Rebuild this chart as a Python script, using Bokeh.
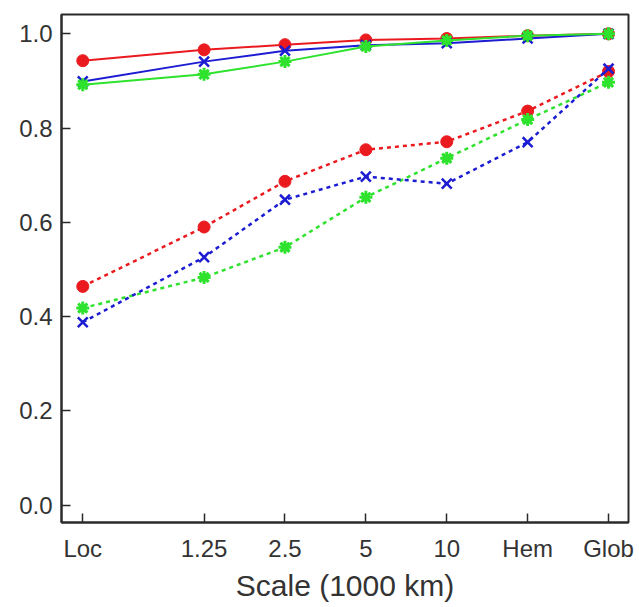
from bokeh.plotting import figure
from bokeh.models import FixedTicker, Range1d
from bokeh.embed import file_html
from bokeh.resources import INLINE

# ---- data ----
categories = ["Loc", "1.25", "2.5", "5", "10", "Hem", "Glob"]
cat_pos = [0, 1.5, 2.5, 3.5, 4.5, 5.5, 6.5]

red_solid = [0.943, 0.966, 0.977, 0.987, 0.990, 0.996, 1.000]
blue_solid = [0.899, 0.941, 0.964, 0.976, 0.980, 0.990, 1.000]
green_solid = [0.892, 0.914, 0.941, 0.973, 0.986, 0.996, 1.000]

red_dash = [0.464, 0.590, 0.687, 0.754, 0.771, 0.836, 0.920]
blue_dash = [0.388, 0.526, 0.648, 0.697, 0.682, 0.770, 0.926]
green_dash = [0.418, 0.483, 0.547, 0.653, 0.736, 0.818, 0.897]

y_ticks = [0.0, 0.2, 0.4, 0.6, 0.8, 1.0]

RED = "#ea1a1f"
BLUE = "#1c1cd2"
GREEN = "#2ee22e"
FONT = "Liberation Sans"
DARK = "#2a2a2a"
TXT = "#333333"

p = figure(width=639, height=607, output_backend="svg", toolbar_location=None,
           x_range=Range1d(-0.263, 6.747), y_range=Range1d(-0.037, 1.041),
           min_border_left=61, min_border_right=11, min_border_top=14, min_border_bottom=85)

p.xgrid.visible = False
p.ygrid.visible = False
p.background_fill_color = "white"
p.border_fill_color = "white"
p.outline_line_color = DARK
p.outline_line_width = 2

# dashed series
dash = "4 4"
p.line(cat_pos, red_dash, color=RED, line_width=2.5, line_dash=dash)
p.scatter(cat_pos, red_dash, marker="circle", size=12, color=RED)
p.line(cat_pos, green_dash, color=GREEN, line_width=2.5, line_dash=dash)
p.scatter(cat_pos, green_dash, marker="asterisk", size=13, line_color=GREEN, line_width=3)
p.scatter(cat_pos, green_dash, marker="x", size=11, line_color=GREEN, line_width=3)
p.line(cat_pos, blue_dash, color=BLUE, line_width=2.5, line_dash=dash)
p.scatter(cat_pos, blue_dash, marker="x", size=14, line_color=BLUE, line_width=2.5)

# solid series
p.line(cat_pos, red_solid, color=RED, line_width=2)
p.scatter(cat_pos, red_solid, marker="circle", size=12, color=RED)
p.line(cat_pos, blue_solid, color=BLUE, line_width=2)
p.scatter(cat_pos, blue_solid, marker="x", size=14, line_color=BLUE, line_width=2.5)
p.line(cat_pos, green_solid, color=GREEN, line_width=2)
p.scatter(cat_pos, green_solid, marker="asterisk", size=13, line_color=GREEN, line_width=3)
p.scatter(cat_pos, green_solid, marker="x", size=11, line_color=GREEN, line_width=3)

# axes
xa = p.xaxis[0]
xa.ticker = FixedTicker(ticks=cat_pos)
xa.major_label_overrides = {pos: lab for pos, lab in zip(cat_pos, categories)}
xa.axis_label = "Scale (1000 km)"

ya = p.yaxis[0]
ya.ticker = FixedTicker(ticks=y_ticks)
ya.major_label_overrides = {t: f"{t:.1f}" for t in y_ticks}

for ax in (xa, ya):
    ax.axis_line_color = DARK
    ax.axis_line_width = 2
    ax.major_tick_line_color = DARK
    ax.major_tick_line_width = 1.5
    ax.major_tick_in = 9
    ax.major_tick_out = 0
    ax.minor_tick_line_color = None
    ax.major_label_text_font = FONT
    ax.major_label_text_font_size = "24px"
    ax.major_label_text_color = TXT
    ax.axis_label_text_font = FONT
    ax.axis_label_text_font_style = "normal"
    ax.axis_label_text_color = TXT

xa.major_label_standoff = 12
xa.axis_label_text_font_size = "30px"
xa.axis_label_standoff = 4
ya.major_label_standoff = 9

open("out.html", "w").write(file_html(p, INLINE))
